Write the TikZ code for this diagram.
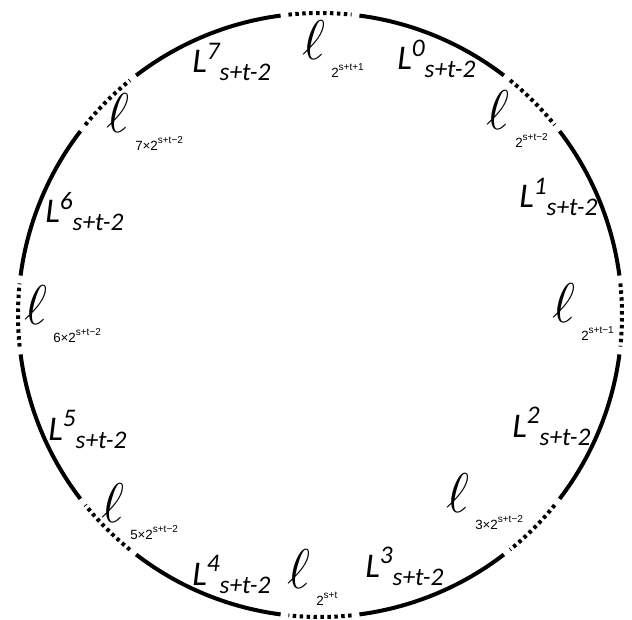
\documentclass[tikz,border=0pt]{standalone}
\usepackage{fix-cm}
\usepackage{fontspec}
\setmainfont{Carlito}
\newfontfamily\idxfont{Liberation Sans}
\newcommand{\Lpart}[1]{{\fontsize{26}{26}\selectfont L}\raisebox{10pt}{\fontsize{19}{19}\selectfont #1}\raisebox{-6pt}{\fontsize{19}{19}\selectfont s+t-2}}
\newcommand{\ellidx}[2]{{\fontsize{42}{42}\selectfont $\ell$}\hspace{4.5pt}\raisebox{-13pt}{\idxfont\fontsize{10}{10}\selectfont #1\raisebox{5pt}{\fontsize{7.5}{7.5}\selectfont #2}}}
\tikzset{
  ring/.style={line width=3pt},
  gapdots/.style={line width=3pt, dash pattern=on 2.6pt off 2.6pt},
  partlabel/.style={anchor=base west, inner sep=0pt, font=\itshape},
  elllabel/.style={anchor=base west, inner sep=0pt},
}

\begin{document}
\begin{tikzpicture}[x=0.75pt, y=-0.75pt]
  \useasboundingbox (0,0) rectangle (632,620);
  \coordinate (o) at (320,315);
  % solid arcs and dotted gaps
  \foreach \k in {0,...,7} {
    \draw[ring] ([shift={(45*\k+7.5:302)}]o) arc[start angle=45*\k+7.5, end angle=45*\k+37.5, radius=302];
    \draw[gapdots] ([shift={(45*\k-6:302)}]o) arc[start angle=45*\k-6, end angle=45*\k+6, radius=302];
  }

  % parts
  \node[partlabel] (L0) at (397,70) {\Lpart{0}};
  \node[partlabel] (L1) at (519,208) {\Lpart{1}};
  \node[partlabel] (L2) at (512,437) {\Lpart{2}};
  \node[partlabel] (L3) at (365,577) {\Lpart{3}};
  \node[partlabel] (L4) at (192,585) {\Lpart{4}};
  \node[partlabel] (L5) at (48,440) {\Lpart{5}};
  \node[partlabel] (L6) at (45,223) {\Lpart{6}};
  \node[partlabel] (L7) at (192,73) {\Lpart{7}};

  % gaps
  \node[elllabel] (ltop) at (302,60) {\ellidx{2}{s+t+1}};
  \node[elllabel] (lur) at (486,130) {\ellidx{2}{s+t−2}};
  \node[elllabel] (lr) at (552,323) {\ellidx{2}{s+t−1}};
  \node[elllabel] (llr) at (446,512) {\ellidx{3×2}{s+t−2}};
  \node[elllabel] (lbot) at (287,588) {\ellidx{2}{s+t}};
  \node[elllabel] (lll) at (101,522) {\ellidx{5×2}{s+t−2}};
  \node[elllabel] (ll) at (24,325) {\ellidx{6×2}{s+t−2}};
  \node[elllabel] (lul) at (106,133) {\ellidx{7×2}{s+t−2}};
\end{tikzpicture}
\end{document}
